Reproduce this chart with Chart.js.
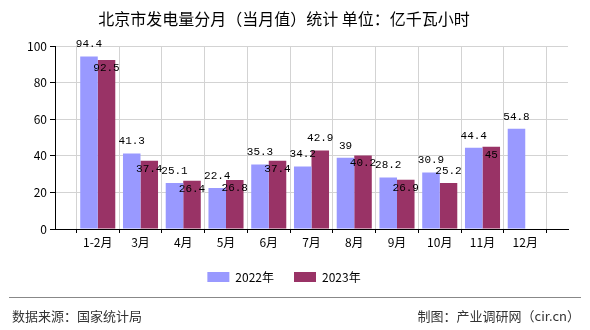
<!DOCTYPE html>
<html>
<head>
    <meta charset="utf-8">
    <title>北京市发电量分月（当月值）统计</title>
    <script src="https://cdn.jsdelivr.net/npm/chart.js@4.4.2/dist/chart.umd.min.js"></script>
    <style>
        html, body {
            margin: 0;
            background: #fff;
        }
        #wrap {
            width: 590px;
            height: 330px;
        }
    </style>
</head>
<body>
<div id="wrap"><canvas id="powerChart"></canvas></div>
<script>
    // data
    const months = ['1-2月', '3月', '4月', '5月', '6月', '7月', '8月', '9月', '10月', '11月', '12月'];
    const values2022 = [94.4, 41.3, 25.1, 22.4, 35.3, 34.2, 39, 28.2, 30.9, 44.4, 54.8];
    const values2023 = [92.5, 37.4, 26.4, 26.8, 37.4, 42.9, 40.2, 26.9, 25.2, 45];
    const yTicks = [0, 20, 40, 60, 80, 100];

    const cjk = "'Noto Sans CJK SC', 'Noto Sans', sans-serif";

    // bars sit on whole numbers 1..11, axis runs 0..12
    const toPoints = arr => arr.map((v, i) => ({ x: i + 1, y: v }));

    // value labels; 2023 label goes inside the bar top when it would hit the 2022 one
    const valueLabels = {
        id: 'valueLabels',
        afterDatasetsDraw(chart) {
            const ctx = chart.ctx;
            const m0 = chart.getDatasetMeta(0).data;
            const m1 = chart.getDatasetMeta(1).data;
            ctx.save();
            ctx.font = "11px 'Liberation Mono', monospace";
            ctx.fillStyle = '#000';
            ctx.textAlign = 'center';
            ctx.textBaseline = 'middle';
            m0.forEach((el, i) => {
                ctx.fillText(String(values2022[i]), el.x, el.y - 12);
            });
            m1.forEach((el, i) => {
                let y = el.y - 12;
                const other = m0[i];
                if (other && Math.abs((other.y - 12) - y) < 10) {
                    y = el.y + 8;
                }
                ctx.fillText(String(values2023[i]), el.x, y);
            });
            ctx.restore();
        }
    };

    // source line at the bottom
    const footer = {
        id: 'footer',
        afterDraw(chart) {
            const ctx = chart.ctx;
            ctx.save();
            ctx.strokeStyle = '#888';
            ctx.lineWidth = 1;
            ctx.beginPath();
            ctx.moveTo(9, 297.5);
            ctx.lineTo(581, 297.5);
            ctx.stroke();
            ctx.font = "13px " + cjk;
            ctx.fillStyle = '#333';
            ctx.textBaseline = 'middle';
            ctx.textAlign = 'left';
            ctx.fillText('数据来源：国家统计局', 12, 316);
            ctx.textAlign = 'right';
            ctx.fillText('制图：产业调研网（cir.cn）', 580, 316);
            ctx.restore();
        }
    };

    new Chart(document.getElementById('powerChart'), {
        type: 'bar',
        data: {
            datasets: [
                {
                    label: '2022年',
                    data: toPoints(values2022),
                    backgroundColor: '#9999FF',
                    categoryPercentage: 0.82,
                    barPercentage: 1
                },
                {
                    label: '2023年',
                    data: toPoints(values2023),
                    backgroundColor: '#993366',
                    categoryPercentage: 0.82,
                    barPercentage: 1
                }
            ]
        },
        options: {
            responsive: true,
            maintainAspectRatio: false,
            animation: false,
            layout: {
                padding: { left: 0, right: 22, top: 0, bottom: 37 }
            },
            scales: {
                x: {
                    type: 'linear',
                    min: 0,
                    max: 12,
                    offset: false,
                    afterBuildTicks: scale => {
                        scale.ticks = Array.from({ length: 13 }, (_, i) => ({ value: i }));
                    },
                    afterFit: scale => { scale.height = 22; },
                    ticks: {
                        autoSkip: false,
                        maxRotation: 0,
                        padding: 2,
                        color: '#000',
                        font: { family: cjk, size: 12 },
                        callback: v => months[v - 1] || ''
                    },
                    grid: {
                        color: '#d3d3d3',
                        tickColor: '#000',
                        tickLength: 4
                    },
                    border: { color: '#000', width: 1 }
                },
                y: {
                    min: 0,
                    max: 100,
                    afterBuildTicks: scale => {
                        scale.ticks = yTicks.map(v => ({ value: v }));
                    },
                    afterFit: scale => { scale.width = 55; },
                    ticks: {
                        padding: 3,
                        color: '#000',
                        font: { family: cjk, size: 12 }
                    },
                    grid: {
                        color: '#d3d3d3',
                        tickColor: '#000',
                        tickLength: 5
                    },
                    border: { color: '#000', width: 1 }
                }
            },
            plugins: {
                title: {
                    display: true,
                    text: '北京市发电量分月（当月值）统计 单位：亿千瓦小时',
                    color: '#000',
                    font: { family: cjk, size: 16, weight: 'normal' },
                    padding: { top: 9, bottom: 18 }
                },
                legend: {
                    position: 'bottom',
                    labels: {
                        boxWidth: 22,
                        boxHeight: 10,
                        padding: 20,
                        color: '#000',
                        font: { family: cjk, size: 12 }
                    }
                },
                tooltip: { enabled: false }
            }
        },
        plugins: [valueLabels, footer]
    });
</script>
</body>
</html>
